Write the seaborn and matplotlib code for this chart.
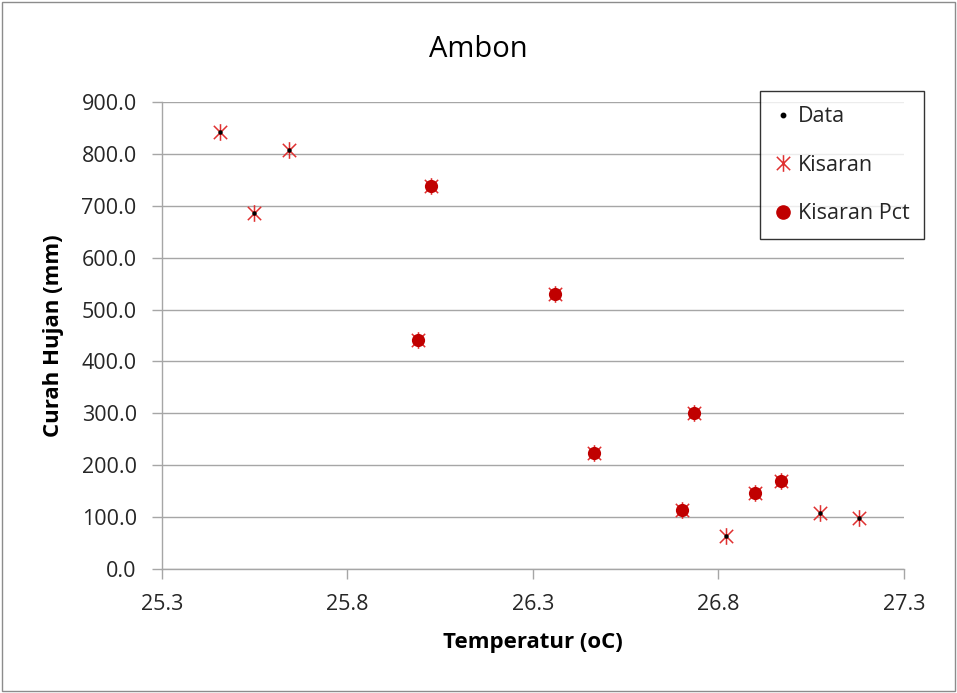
import numpy as np
import pandas as pd
import matplotlib
matplotlib.use("Agg")
import matplotlib.pyplot as plt
from matplotlib.path import Path
from matplotlib.patches import Rectangle
from matplotlib.lines import Line2D
import seaborn as sns

# ---- data ----
temperature = [25.457, 25.550, 25.643, 26.025, 25.991, 26.361, 26.464,
               26.734, 26.702, 26.821, 26.899, 26.968, 27.075, 27.179]
rainfall = [842, 686, 807, 737, 442, 530, 224,
            301, 115, 64, 147, 169, 108, 98]
is_pct = [False, False, False, True, True, True, True,
          True, True, False, True, True, False, False]

x_ticks = [25.3, 25.8, 26.3, 26.8, 27.3]
y_ticks = [0, 100, 200, 300, 400, 500, 600, 700, 800, 900]

df = pd.DataFrame({"temp": temperature, "rain": rainfall, "pct": is_pct})
df_pct = df[df["pct"]]

sns.set_style("white")
plt.rcParams["font.family"] = ["Open Sans", "DejaVu Sans"]

fig = plt.figure(figsize=(9.57, 6.93), dpi=100)
ax = fig.add_axes([161.7 / 957, 1 - 569.3 / 693, (904 - 161.7) / 957, (569.3 - 101.7) / 693])

# figure border
fig.patches.append(Rectangle((2 / 957, 2 / 693), 953 / 957, 689 / 693,
                             transform=fig.transFigure, fill=False,
                             edgecolor="#8c8c8c", linewidth=1.0))

red = "#c00000"
star_red = "#e03030"
txt = "#262626"
star = Path([(0, -1), (0, 1), (-0.8, -0.8), (0.8, 0.8), (-0.8, 0.8), (0.8, -0.8)],
            [Path.MOVETO, Path.LINETO, Path.MOVETO, Path.LINETO, Path.MOVETO, Path.LINETO])

sns.scatterplot(data=df, x="temp", y="rain", ax=ax, marker="o", s=3.2 ** 2,
                color="black", edgecolor="black", linewidth=0, zorder=4, legend=False)
sns.scatterplot(data=df, x="temp", y="rain", ax=ax, marker=star, s=12 ** 2,
                color=star_red, edgecolor=star_red, linewidth=1.1, zorder=3, legend=False)
sns.scatterplot(data=df_pct, x="temp", y="rain", ax=ax, marker="o", s=9.5 ** 2,
                color=red, edgecolor=red, linewidth=0, zorder=5, legend=False)

ax.set_xlim(25.3, 27.3)
ax.set_ylim(0, 900)
ax.set_xticks(x_ticks)
ax.set_yticks(y_ticks)
ax.set_xticklabels([f"{v:.1f}" for v in x_ticks], fontsize=15.5, color=txt)
ax.set_yticklabels([f"{v:.1f}" for v in y_ticks], fontsize=15.5, color=txt)
ax.tick_params(axis="both", direction="out", length=7, width=1, color="#a6a6a6",
               bottom=True, left=True)
ax.tick_params(axis="y", pad=11)
ax.tick_params(axis="x", pad=11)
ax.grid(axis="y", color="#a6a6a6", linewidth=1)
ax.grid(axis="x", visible=False)
for s in ["top", "right"]:
    ax.spines[s].set_visible(False)
for s in ["left", "bottom"]:
    ax.spines[s].set_color("#a6a6a6")
    ax.spines[s].set_linewidth(1)
ax.set_axisbelow(True)

ax.set_xlabel("Temperatur (oC)", fontsize=16, fontweight="bold", color="black")
ax.set_ylabel("Curah Hujan (mm)", fontsize=16, fontweight="bold", color="black")
ax.xaxis.set_label_coords(0.5, (569.3 - 632) / 467.6)
ax.yaxis.set_label_coords((64 - 161.7) / 742.3, 0.5)
fig.text(0.5, 1 - 57 / 693, "Ambon", ha="center", va="baseline", fontsize=21, color="black")

handles = [
    Line2D([], [], linestyle="none", marker="o", markersize=3.2, color="black"),
    Line2D([], [], linestyle="none", marker=star, markersize=12, color=star_red,
           markeredgewidth=1.1),
    Line2D([], [], linestyle="none", marker="o", markersize=9.5, color=red),
]
leg = fig.legend(handles, ["Data", "Kisaran", "Kisaran Pct"],
                 loc="upper left", bbox_to_anchor=(760 / 957, 1 - 91 / 693),
                 frameon=True, fancybox=False, fontsize=15.5, labelspacing=1.28,
                 handlelength=0.7, handletextpad=0.35, borderpad=0.7,
                 borderaxespad=0)
for t in leg.get_texts():
    t.set_color(txt)
leg.get_frame().set_edgecolor("black")
leg.get_frame().set_linewidth(1.0)

fig.savefig("out.png", dpi=100)
